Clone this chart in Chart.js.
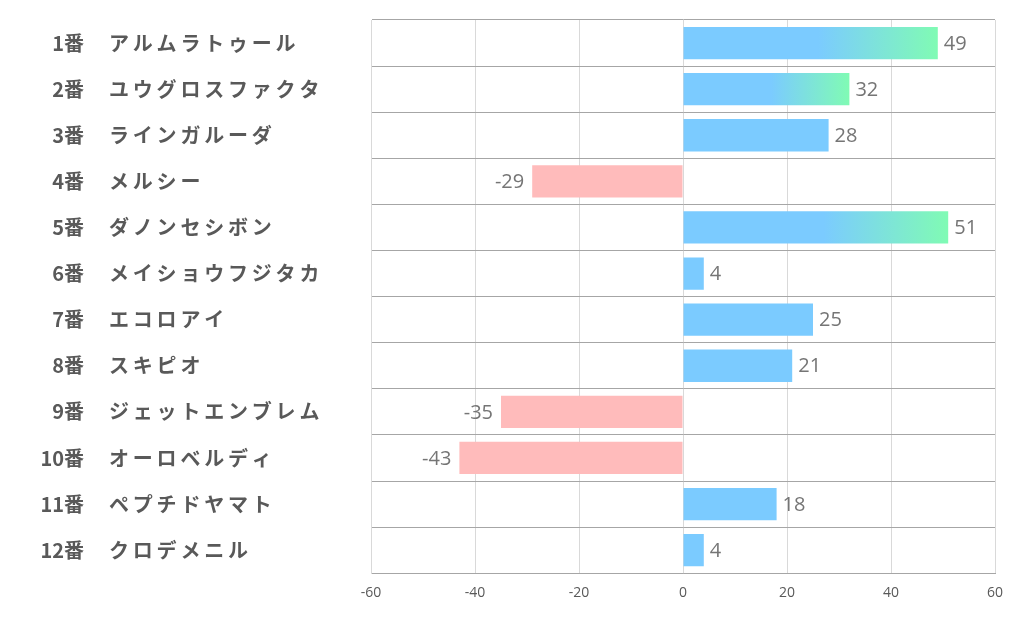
<!DOCTYPE html>
<html>
<head>
<meta charset="utf-8">
<script src="https://cdn.jsdelivr.net/npm/chart.js@4/dist/chart.umd.min.js"></script>
<style>
  html, body { margin: 0; padding: 0; background: #fff; }
  #wrap { width: 1022px; height: 626px; }
</style>
</head>
<body>
<div id="wrap"><canvas id="chart"></canvas></div>
<script>
// Data
const numbers = ['1番', '2番', '3番', '4番', '5番', '6番', '7番', '8番', '9番', '10番', '11番', '12番'];
const horses = ['アルムラトゥール', 'ユウグロスファクタ', 'ラインガルーダ', 'メルシー', 'ダノンセシボン', 'メイショウフジタカ',
  'エコロアイ', 'スキピオ', 'ジェットエンブレム', 'オーロベルディ', 'ペプチドヤマト', 'クロデメニル'];
const scores = [49, 32, 28, -29, 51, 4, 25, 21, -35, -43, 18, 4];
const xTicks = [-60, -40, -20, 0, 20, 40, 60];

const BLUE = '#7BCBFF';
const GREEN = '#80FBB4';
const PINK = '#FFBBBB';

// bar colour: pink for negative, blue for positive, blue->green fade for the high ones
function barColor(ctx) {
    const v = ctx.raw;
    if (v < 0) return PINK;
    if (v < 30) return BLUE;
    const chart = ctx.chart;
    const x = chart.scales && chart.scales.x;
    if (!x || !chart.chartArea) return BLUE;
    const x0 = x.getPixelForValue(0);
    const x1 = x.getPixelForValue(v);
    const g = chart.ctx.createLinearGradient(x0, 0, x1, 0);
    g.addColorStop(0, BLUE);
    g.addColorStop(0.53, BLUE);
    g.addColorStop(1, GREEN);
    return g;
}

// two-column labels on the left + value labels at the bar ends
const labelPlugin = {
    id: 'labels',
    afterDatasetsDraw(chart) {
        const c = chart.ctx;
        const y = chart.scales.y;
        const meta = chart.getDatasetMeta(0);
        c.save();
        c.textBaseline = 'middle';
        numbers.forEach((n, i) => {
            const py = y.getPixelForValue(i);
            c.font = 'bold 20px "Noto Sans CJK JP"';
            c.fillStyle = '#595959';
            c.letterSpacing = '0px';
            c.textAlign = 'right';
            c.fillText(n, 84, py);
            c.textAlign = 'left';
            c.letterSpacing = '3.8px';
            c.fillText(horses[i], 109, py);
        });
        c.letterSpacing = '0px';
        c.font = '20px "Open Sans"';
        c.fillStyle = '#757575';
        meta.data.forEach((bar, i) => {
            const v = scores[i];
            if (v >= 0) {
                c.textAlign = 'left';
                c.fillText(String(v), bar.x + 6, bar.y + 1);
            } else {
                c.textAlign = 'right';
                c.fillText(String(v), bar.x - 8, bar.y + 1);
            }
        });
        c.restore();
    }
};

new Chart(document.getElementById('chart'), {
    type: 'bar',
    data: {
        labels: numbers.map((n, i) => n + '　' + horses[i]),
        datasets: [{
            data: scores,
            backgroundColor: barColor,
            borderWidth: 0,
            barPercentage: 0.7,
            categoryPercentage: 1
        }]
    },
    options: {
        indexAxis: 'y',
        responsive: true,
        maintainAspectRatio: false,
        animation: false,
        layout: { padding: { left: 371, top: 20, right: 27, bottom: 14 } },
        plugins: {
            legend: { display: false },
            tooltip: { enabled: false }
        },
        scales: {
            x: {
                min: -60,
                max: 60,
                afterBuildTicks: axis => { axis.ticks = xTicks.map(v => ({ value: v })); },
                grid: { color: '#D9D9D9', drawTicks: false },
                border: { color: '#A6A6A6', width: 1 },
                ticks: {
                    color: '#595959',
                    font: { family: 'Open Sans', size: 14 },
                    padding: 11
                }
            },
            y: {
                grid: { color: '#A6A6A6', drawTicks: false, offset: true },
                border: { color: '#D9D9D9' },
                ticks: { display: false }
            }
        }
    },
    plugins: [labelPlugin]
});
</script>
</body>
</html>
